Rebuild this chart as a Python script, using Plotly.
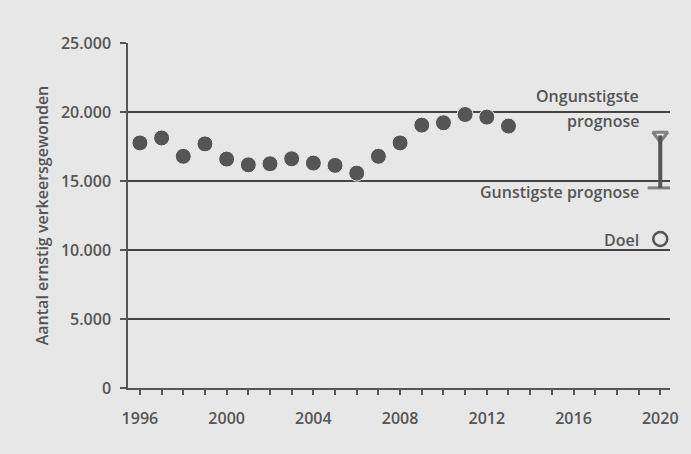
import plotly.graph_objects as go

years = list(range(1996, 2014))
injured = [17760, 18120, 16790, 17690, 16590, 16170, 16250, 16610, 16300, 16130,
           15570, 16790, 17760, 19050, 19220, 19820, 19630, 18980]

prog_year = 2020
prog_low = 14500
prog_high = 18300
goal_year = 2020
goal_value = 10800

label_worst_1 = "Ongunstigste"
label_worst_2 = "prognose"
label_best = "Gunstigste prognose"
label_goal = "Doel"
y_title = "Aantal ernstig verkeersgewonden"

ink = "#555555"
bg = "#e7e7e7"
font_family = "Open Sans"

fig = go.Figure()

fig.add_trace(go.Scatter(
    x=years, y=injured, mode="markers",
    marker=dict(size=16, color=ink, line=dict(color="#f0f0f0", width=1)),
    showlegend=False, hoverinfo="x+y"))

fig.add_trace(go.Scatter(
    x=[prog_year, prog_year], y=[prog_low, prog_high], mode="lines",
    line=dict(color=ink, width=4), showlegend=False))
fig.add_trace(go.Scatter(
    x=[prog_year, prog_year], y=[prog_low, prog_high], mode="markers",
    marker=dict(symbol=["line-ew", "triangle-down-open"], size=[18, 13], color=ink,
                line=dict(color=ink, width=3)),
    showlegend=False))

fig.add_trace(go.Scatter(
    x=[goal_year], y=[goal_value], mode="markers",
    marker=dict(symbol="circle-open", size=14, color=ink, line=dict(color=ink, width=2.5)),
    showlegend=False))

ann_font = dict(family=font_family, size=16, color=ink, weight=600)
for txt, yv in [(label_worst_1, 21190), (label_worst_2, 19360), (label_best, 14180), (label_goal, 10750)]:
    fig.add_annotation(x=2019.13, y=yv, xref="x", yref="y", text=txt, showarrow=False,
                       xanchor="right", yanchor="middle", font=ann_font)

fig.update_layout(
    width=691, height=454,
    margin=dict(l=128, r=19, t=43, b=66),
    paper_bgcolor=bg, plot_bgcolor=bg,
    separators=",.",
    font=dict(family=font_family, color=ink),
    xaxis=dict(range=[1995.45, 2020.45], tickmode="linear", tick0=1996, dtick=4,
               showgrid=False, zeroline=False, showline=True, linecolor=ink, linewidth=1.5,
               ticks="outside", ticklen=5, tickwidth=1.5, tickcolor=ink,
               minor=dict(dtick=1, tick0=1996, ticks="outside", ticklen=5, tickwidth=1.5, tickcolor=ink, showgrid=False),
               ticklabelstandoff=10,
               tickfont=dict(family=font_family, size=16, color=ink, weight=600)),
    yaxis=dict(range=[0, 25000], tickmode="linear", tick0=0, dtick=5000, tickformat=",d",
               showgrid=True, gridcolor="#444444", gridwidth=1.5, zeroline=False,
               showline=True, linecolor=ink, linewidth=1.5,
               ticks="outside", ticklen=6, tickwidth=1.5, tickcolor=ink,
               ticklabelstandoff=6,
               tickfont=dict(family=font_family, size=16, color=ink, weight=600),
               title=dict(text=y_title, standoff=8,
                          font=dict(family=font_family, size=16, color=ink, weight=600))),
)

fig.write_html("out.html", config={"displayModeBar": False},
               post_script="document.body.style.margin='0';")
